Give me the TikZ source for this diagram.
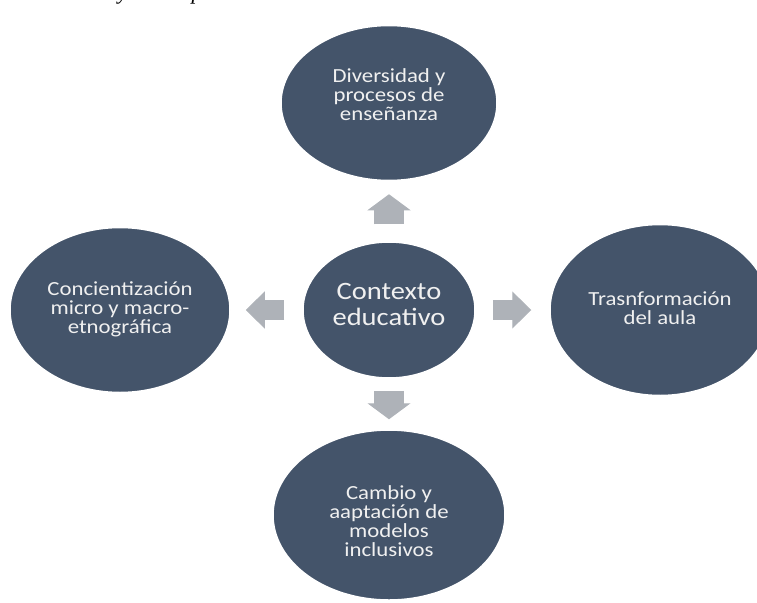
\documentclass[tikz,border=0pt]{standalone}
\usepackage{fontspec}
\setmainfont{Liberation Serif}
\newfontfamily\ovalfont[FakeStretch=1.14]{Carlito}
\usetikzlibrary{shapes.geometric,arrows.meta}
\definecolor{ovalblue}{HTML}{44546A}
\definecolor{arrowgray}{HTML}{AEB2B8}
\definecolor{ovaltext}{HTML}{F0F0F0}
\tikzset{
  oval/.style={ellipse, fill=ovalblue, draw=white, line width=1.5pt, inner sep=0pt},
  ovallabel/.style={text=ovaltext, align=center, inner sep=0pt,
    font=\ovalfont\fontsize{20}{19}\selectfont},
  blockv/.style={draw=arrowgray, line width=30pt,
    -{Triangle[width=43pt,length=16pt,line width=1pt]}},
  blockh/.style={draw=arrowgray, line width=20pt,
    -{Triangle[width=37pt,length=19pt,line width=1pt]}}
}
\begin{document}
\begin{tikzpicture}[x=1pt, y=-1pt]
            \useasboundingbox (0,0) rectangle (757,602);

            % Caption cut off at the top
            \node[anchor=base, font=\itshape\fontsize{22}{24}\selectfont, inner sep=0pt] (capy) at (123,0) {y};
            \node[anchor=base, font=\itshape\fontsize{22}{24}\selectfont, inner sep=0pt] (capp) at (197,0) {p};

            % Nodes
            \node[oval, minimum width=172pt, minimum height=136pt] (Contexto) at (389, 310) {};
            \node[oval, minimum width=216pt, minimum height=155pt] (Diversidad) at (389, 103) {};
            \node[oval, minimum width=220pt, minimum height=165pt] (Concienc) at (120, 310) {};
            \node[oval, minimum width=220pt, minimum height=171pt] (Transf) at (660, 310) {};
            \node[oval, minimum width=232pt, minimum height=170pt] (Cambio) at (389, 515) {};

            % Texts
            \node[ovallabel, font=\ovalfont\fontsize{25}{26}\selectfont] (ContextoText) at (389, 304) {Contexto\\educativo};
            \node[ovallabel] (DiversidadText) at (389, 95) {Diversidad y\\procesos de\\enseñanza};
            \node[ovallabel] (ConciencText) at (120, 309) {Concientización\\micro y macro-\\etnográfica};
            \node[ovallabel] (TransfText) at (660, 308) {Trasnformación\\del aula};
            \node[ovallabel] (CambioText) at (389, 521) {Cambio y\\aaptación de\\modelos\\inclusivos};

            % Arrows
            \draw[blockv, shorten <=17pt, shorten >=13pt] (Contexto) -- (Diversidad);
            \draw[blockv, shorten <=12pt, shorten >=10pt] (Contexto) -- (Cambio);
            \draw[blockh, shorten <=17pt, shorten >=18pt] (Contexto) -- (Transf);
            \draw[blockh, shorten <=18pt, shorten >=15pt] (Contexto) -- (Concienc);
        \end{tikzpicture}
\end{document}
